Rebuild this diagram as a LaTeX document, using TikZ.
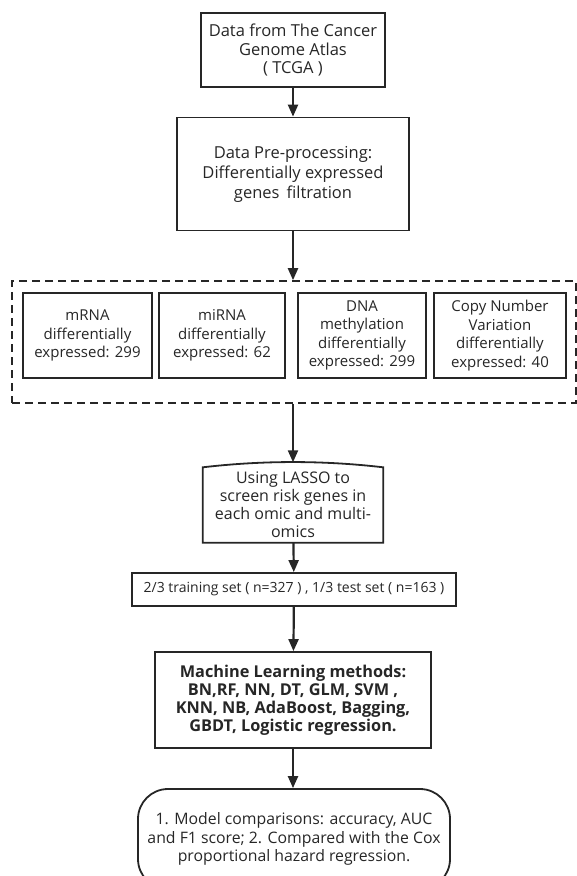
\documentclass[tikz,border=0pt]{standalone}
\usepackage{fontspec}
\setmainfont{Open Sans}
\usetikzlibrary{arrows.meta}

\begin{document}
\begin{tikzpicture}[x=1pt,y=-1pt,
   every node/.style={align=center,text=black!85,font=\fontsize{16.5}{18.5}\selectfont},
   stepbox/.style={draw=black!85,line width=1.8pt,inner sep=2pt},
   omicbox/.style={stepbox,minimum height=85,font=\fontsize{15}{18.5}\selectfont},
   dashbox/.style={draw=black!85,line width=1.6pt,dash pattern=on 8pt off 5pt},
   arr/.style={draw=black!85,line width=2.2pt,-{Triangle[length=12pt,width=10pt]}}]

\useasboundingbox (0,0) rectangle (577,876);

\node[stepbox,minimum width=184,minimum height=74] (data) at (293,50)
   {Data from The Cancer\\Genome Atlas\\( TCGA )};
\node[stepbox,minimum width=232,minimum height=113,font=\fontsize{16.5}{20}\selectfont] (prep) at (293,174)
   {Data Pre-processing:\\Differentially expressed\\genes\, filtration};

\node[dashbox,minimum width=564,minimum height=122] (omics) at (294,342) {};
\node[omicbox,minimum width=129] (mrna) at (87.5,335.5)
   {mRNA\\differentially\\expressed: 299};
\node[omicbox,minimum width=126] (mirna) at (222,335.5)
   {miRNA\\differentially\\expressed: 62};
\node[omicbox,minimum width=128] (meth) at (362,335.5)
   {DNA\\methylation\\differentially\\expressed: 299};
\node[omicbox,minimum width=132] (cnv) at (500,335.5)
   {Copy Number\\Variation\\differentially\\expressed: 40};

% LASSO step: card with a curved top
\node[minimum width=180,minimum height=75,font=\fontsize{16}{18}\selectfont] (lasso) at (293,505)
   {Using LASSO to\\screen risk genes in\\each omic and multi-\\omics};
\draw[draw=black!85,line width=1.8pt] (lasso.north west)
   .. controls +(60,-7) and +(-60,-7) .. (lasso.north east)
   -- (lasso.south east) -- (lasso.south west) -- cycle;

\node[stepbox,minimum width=324,minimum height=33,font=\fontsize{14}{17}\selectfont] (split) at (294,589.5)
   {2/3 training set ( n=327 ) , 1/3 test set ( n=163 )};
\node[stepbox,minimum width=276,minimum height=96,font=\fontsize{16.3}{18}\selectfont\bfseries] (ml) at (293,700)
   {Machine Learning methods:\\BN,RF, NN, DT, GLM, SVM ,\\KNN, NB, AdaBoost, Bagging,\\GBDT, Logistic regression.};
\node[stepbox,rounded corners=30pt,minimum width=312,minimum height=100,font=\fontsize{15.8}{18.5}\selectfont] (cmp) at (294,839)
   {1. Model comparisons: accuracy, AUC\\and F1 score; 2. Compared with the Cox\\proportional hazard regression.};

\draw[arr] (data) -- (prep);
\draw[arr] (prep) -- (prep |- omics.north);
\draw[arr] (lasso |- omics.south) -- ([yshift=5pt]lasso.north);
\draw[arr] (lasso) -- (split);
\draw[arr] (split) -- (ml);
\draw[arr] (ml) -- (ml |- cmp.north);

\end{tikzpicture}
\end{document}
